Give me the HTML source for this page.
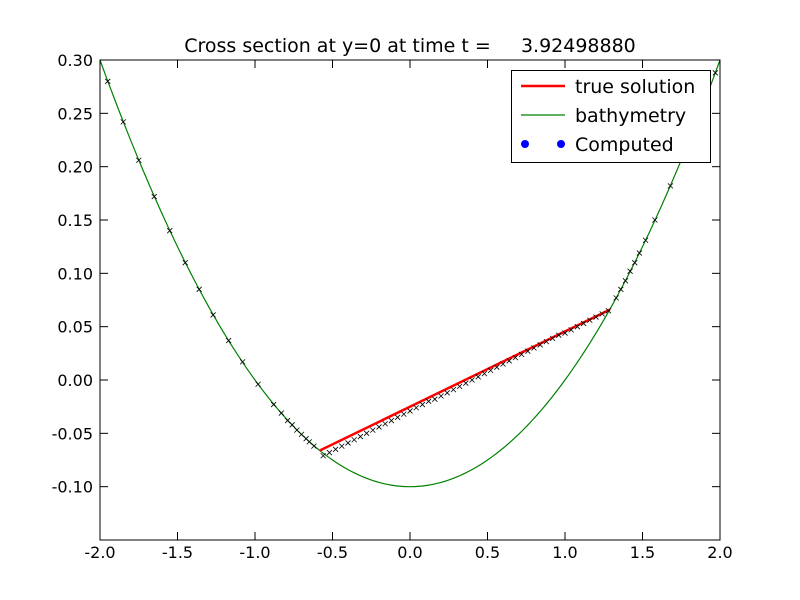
<!DOCTYPE html>
<html><head><meta charset="utf-8"><style>
body{margin:0;background:#fff}
svg{display:block;font-family:"DejaVu Sans","Liberation Sans",sans-serif}
</style></head><body>
<svg id="chart" width="800" height="600">
<rect width="800" height="600" fill="#fff"/>
<g id="plot"></g>
<rect x="100" y="60" width="620" height="480" fill="none" stroke="#000" stroke-width="1"/>
<g id="ticks" font-size="16"></g>
<text x="410" y="52" text-anchor="middle" font-size="19" style="white-space:pre">Cross section at y=0 at time t =     3.92498880</text>
<g>
<rect x="511.5" y="70.5" width="199" height="92" fill="#fff" stroke="#000"/>
<line x1="521" y1="86" x2="565" y2="86" stroke="#f00" stroke-width="2.5"/>
<text x="575" y="93" font-size="19">true solution</text>
<line x1="521" y1="115" x2="565" y2="115" stroke="#008000" stroke-width="1.2"/>
<text x="575" y="122" font-size="19">bathymetry</text>
<circle cx="525" cy="144" r="4" fill="#00f"/>
<circle cx="561" cy="144" r="4" fill="#00f"/>
<text x="575" y="151" font-size="19">Computed</text>
</g>
</svg>
<script>
const xTicks=[-2.0,-1.5,-1.0,-0.5,0.0,0.5,1.0,1.5,2.0];
const yTicks=[-0.10,-0.05,0.00,0.05,0.10,0.15,0.20,0.25,0.30];
const trueX=[-0.58,1.29];
const trueY=[-0.066,0.066];
const bathyCoef=[0.1,-0.1];
const compX=[-1.95,-1.85,-1.75,-1.65,-1.55,-1.45,-1.36,-1.27,-1.17,-1.08,-0.98,-0.88,-0.83,-0.79,-0.76,-0.73,-0.70,-0.67,-0.65,-0.62,
-0.56,-0.52,-0.48,-0.44,-0.40,-0.36,-0.32,-0.28,-0.24,-0.20,-0.16,-0.12,-0.08,-0.04,0.00,0.04,0.08,0.12,0.16,0.20,0.24,0.28,0.32,0.36,0.40,0.44,0.48,0.52,0.56,0.60,0.64,0.68,0.72,0.76,0.80,0.84,0.88,0.92,0.96,1.00,1.04,1.08,1.12,1.16,1.20,1.24,1.28,
1.33,1.36,1.39,1.42,1.45,1.48,1.52,1.58,1.68,1.78,1.88,1.97];
const compY=[0.280,0.242,0.206,0.172,0.140,0.110,0.085,0.061,0.037,0.017,-0.004,-0.023,-0.031,-0.038,-0.042,-0.047,-0.051,-0.055,-0.058,-0.062,
-0.071,-0.068,-0.065,-0.062,-0.059,-0.056,-0.053,-0.050,-0.047,-0.044,-0.041,-0.038,-0.035,-0.032,-0.029,-0.026,-0.023,-0.020,-0.018,-0.015,-0.012,-0.009,-0.006,-0.003,0.000,0.003,0.006,0.009,0.012,0.015,0.018,0.021,0.024,0.027,0.030,0.033,0.036,0.039,0.042,0.044,0.047,0.050,0.053,0.056,0.059,0.062,0.065,
0.077,0.085,0.093,0.102,0.110,0.119,0.131,0.150,0.182,0.217,0.253,0.288];
const NS='http://www.w3.org/2000/svg';
const X=v=>100+(v+2)/4*620;
const Y=v=>60+(0.30-v)/0.45*480;
function mk(tag,attrs,parent){const e=document.createElementNS(NS,tag);for(const k in attrs)e.setAttribute(k,attrs[k]);parent.appendChild(e);return e;}
const plot=document.getElementById('plot');
const ticks=document.getElementById('ticks');
let d='';
for(let i=0;i<=200;i++){const x=-2+4*i/200;const y=bathyCoef[0]*x*x+bathyCoef[1];d+=(i?'L':'M')+X(x).toFixed(2)+' '+Y(y).toFixed(2);}
const bp=mk('path',{d:d,fill:'none',stroke:'#008000','stroke-width':1.2},plot);


const tl=mk('polyline',{points:trueX.map((x,i)=>X(x)+','+Y(trueY[i])).join(' '),fill:'none',stroke:'#f00','stroke-width':2.5},plot);


compX.forEach((x,i)=>{
 const cx=X(x),cy=Y(compY[i]),r=2.5;
 const m=mk('path',{d:`M${cx-r} ${cy-r}L${cx+r} ${cy+r}M${cx-r} ${cy+r}L${cx+r} ${cy-r}`,stroke:'#000','stroke-width':0.8,fill:'none'},plot);
 
 
});
xTicks.forEach(v=>{
 const x=X(v);
 mk('line',{x1:x,y1:540,x2:x,y2:532,stroke:'#000'},ticks);
 mk('line',{x1:x,y1:60,x2:x,y2:68,stroke:'#000'},ticks);
 const t=mk('text',{x:x,y:558,'text-anchor':'middle'},ticks);
 t.textContent=v.toFixed(1);
 
 
});
yTicks.forEach(v=>{
 const y=Y(v);
 mk('line',{x1:100,y1:y,x2:108,y2:y,stroke:'#000'},ticks);
 mk('line',{x1:720,y1:y,x2:712,y2:y,stroke:'#000'},ticks);
 const t=mk('text',{x:93,y:y+6,'text-anchor':'end'},ticks);
 t.textContent=v.toFixed(2);
 
 
});
</script>
</body></html>
